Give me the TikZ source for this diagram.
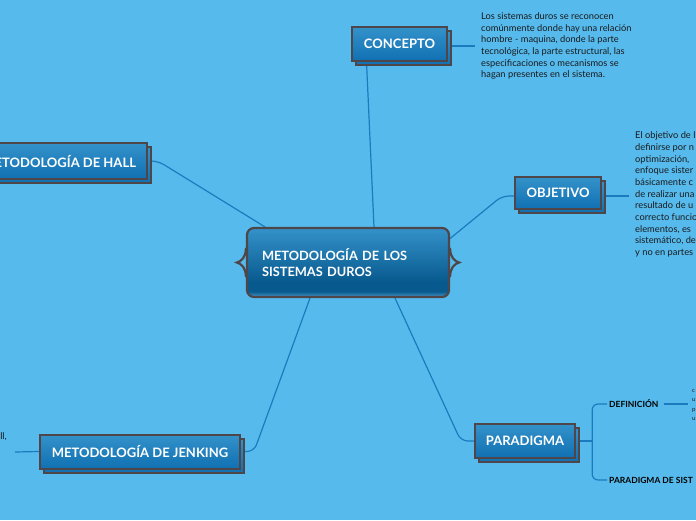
\documentclass[tikz,border=0pt]{standalone}
\usepackage{fontspec}
\setmainfont{Lato}
\usetikzlibrary{arrows.meta}

\definecolor{sky}{RGB}{86,187,236}
\definecolor{linkblue}{RGB}{28,122,190}
\definecolor{edge}{RGB}{78,70,72}
\definecolor{boxtop}{RGB}{52,146,202}
\definecolor{boxbot}{RGB}{16,112,178}
\definecolor{corelite}{RGB}{72,152,202}
\definecolor{coredeep}{RGB}{8,90,142}
\definecolor{ink}{RGB}{26,26,30}

\pgfdeclarelayer{bg}
\pgfdeclarelayer{links}
\pgfsetlayers{bg,links,main}

% glossy fill of the central topic (0bp = bottom)
\pgfdeclareverticalshading{glossy}{100bp}{color(0bp)=(corelite); color(25bp)=(corelite);
  color(29bp)=(coredeep); color(36bp)=(coredeep); color(75bp)=(boxtop); color(100bp)=(boxtop)}

\begin{document}
\begin{tikzpicture}[
  x=1pt, y=-1pt,
  link/.style={draw=linkblue, line width=1.2pt, rounded corners=7pt},
  brace/.style={draw=edge, line width=2.2pt, line cap=round},
  topic/.style={draw=edge, line width=2pt, top color=boxtop, bottom color=boxbot,
    text=white, font=\fontsize{13}{15}\selectfont\bfseries, inner xsep=11pt,
    minimum height=34pt,
    preaction={draw=edge, line width=2pt, top color=boxtop, bottom color=boxbot,
      transform canvas={shift={(4pt,-4pt)}}}},
  centre/.style={draw=edge, line width=2.2pt, rounded corners=7pt, shade, shading=glossy,
    minimum width=202pt, minimum height=69pt, text width=172pt, inner xsep=15pt,
    align=left, text=white, font=\fontsize{12.8}{16}\selectfont\bfseries},
  note/.style={inner sep=0pt, align=left, text=ink, font=\fontsize{9.3}{11.7}\selectfont},
  sub/.style={inner sep=0pt, text=black, font=\fontsize{8.5}{10}\selectfont\bfseries}
]
\useasboundingbox (0,0) rectangle (696,520);
\begin{pgfonlayer}{bg}
  \fill[sky] (0,0) rectangle (696,520);
\end{pgfonlayer}
\clip (0,0) rectangle (696,520);

% central topic and its braces
\node[centre] (core) at (348,262.5) {METODOLOGÍA DE LOS\\SISTEMAS DUROS};
\foreach \s/\a/\c in {-9/west/4, 9/east/-4}
  \draw[brace] ([yshift=14pt]core.\a) .. controls +(0,9) and +(\c,-1) .. ([xshift=\s]core.\a)
    .. controls +(\c,1) and +(0,-9) .. ([yshift=-14pt]core.\a);

% main topics
\node[topic, minimum width=95pt] (concept) at (399.5,44) {CONCEPTO};
\node[topic, minimum width=86pt, minimum height=32pt] (objetivo) at (558,193) {OBJETIVO};
\node[topic, anchor=east, minimum height=36pt] (hall) at (148,161) {METODOLOGÍA DE HALL};
\node[topic, minimum width=200pt] (jenking) at (140,451.5) {METODOLOGÍA DE JENKING};
\node[topic, minimum width=100pt] (paradigma) at (525,441) {PARADIGMA};

% notes
\node[note, anchor=west] (conceptnote) at (481,46) {Los sistemas duros se reconocen\\
  comúnmente donde hay una relación\\hombre - maquina, donde la parte\\
  tecnológica, la parte estructural, las\\especificaciones o mecanismos se\\
  hagan presentes en el sistema.};
\node[note, anchor=west] (objnote) at (635,194.5) {El objetivo de l\\definirse por n\\
  optimización, \\enfoque sister\\básicamente c\\de realizar una\\resultado de u\\
  correcto funcio\\elementos, es\\sistemático, de\\y no en partes};
\node[note, anchor=east] (hallnote) at (7,437) {ll,};
\coordinate (jenknote) at (15,452);

% paradigma branches
\node[sub, anchor=west] (definicion) at (609,404) {DEFINICIÓN};
\node[sub, anchor=west] (parasist) at (609,480) {PARADIGMA DE SIST};
\node[note, anchor=west, font=\fontsize{6}{9.6}\selectfont] (defnote) at (692,405) {c\\u\\p\\u};
\coordinate (fork) at ([xshift=16]paradigma.east);

\begin{pgfonlayer}{links}
  \draw[link] ([xshift=26]core.north) -- ([xshift=-33]concept.south);
  \draw[link, shorten >=6pt] ([yshift=-2]concept.east) -- ([yshift=-2]concept.east -| conceptnote.west);
  \draw[link] ([yshift=24]core.east) -- ([xshift=-12,yshift=-3]objetivo.west) -- ([yshift=-3]objetivo.west);
  \draw[link, shorten >=6pt] ([yshift=-3]objetivo.east) -- ([yshift=-3]objetivo.east -| objnote.west);
  \draw[link] (hall.east) -- ++(10,0) -- ([xshift=-83]core.north);
  \draw[link] (jenking.east) -- ++(13,0) -- ([xshift=-38]core.south);
  \draw[link] (jenking.west) -- (jenknote);
  \draw[link] ([xshift=47]core.south) -- ([xshift=-13]paradigma.west) -- (paradigma.west);
  \draw[link] (paradigma.east) -- (fork);
  \foreach \b in {definicion, parasist}
    \draw[link, rounded corners=6pt, shorten >=2pt] (fork) |- (\b.west);
  \draw[link, shorten <=5pt, shorten >=4pt] (definicion.east) -- (definicion.east -| defnote.west);
\end{pgfonlayer}
\end{tikzpicture}
\end{document}
